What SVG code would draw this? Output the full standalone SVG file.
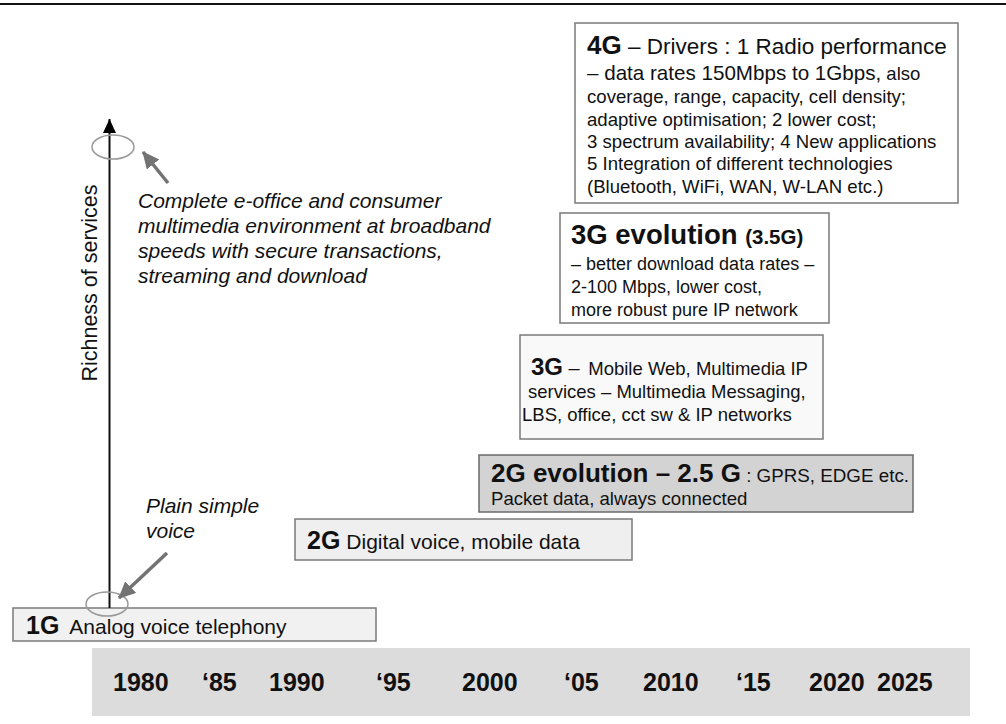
<svg xmlns="http://www.w3.org/2000/svg" width="1006" height="724" viewBox="0 0 1006 724">
<defs>
<style>
text{font-family:"Liberation Sans",Arial,sans-serif;fill:#111}
.b{font-weight:bold}
.it{font-style:italic;font-size:21px}
.box{stroke:#7a7a7a;stroke-width:1.5}
.yr{font-weight:bold;font-size:25px}
.ell{fill:none;stroke:#999;stroke-width:1.5}
.garr{stroke:#737373;stroke-width:3.5;fill:none;marker-end:url(#gh)}
</style>
<marker id="gh" markerUnits="userSpaceOnUse" markerWidth="20" markerHeight="18" refX="16" refY="8" orient="auto">
<path d="M0,0 L17,8 L0,16 Z" fill="#737373"/>
</marker>
<marker id="bh" markerUnits="userSpaceOnUse" markerWidth="16" markerHeight="14" refX="14" refY="6.5" orient="auto">
<path d="M0,0 L14,6.5 L0,13 Z" fill="#000"/>
</marker>
</defs>
<rect width="1006" height="724" fill="#fff"/>
<line x1="0" y1="4" x2="1006" y2="4" stroke="#111" stroke-width="2"/>

<g id="timeline">
<rect x="92" y="648" width="878" height="68" fill="#dcdcdc"/>
<text class="yr" x="113" y="691">1980</text>
<text class="yr" x="202" y="691">‘85</text>
<text class="yr" x="269" y="691">1990</text>
<text class="yr" x="376" y="691">‘95</text>
<text class="yr" x="462" y="691">2000</text>
<text class="yr" x="564" y="691">‘05</text>
<text class="yr" x="643" y="691">2010</text>
<text class="yr" x="736" y="691">‘15</text>
<text class="yr" x="809" y="691">2020</text>
<text class="yr" x="877" y="691">2025</text>
</g>

<g id="node-1g">
<rect class="box" x="13" y="608" width="363" height="33" fill="#f1f1f1"/>
<text x="26" y="634"><tspan class="b" font-size="25">1G</tspan><tspan font-size="21" dx="10">Analog voice telephony</tspan></text>
</g>

<g id="node-2g">
<rect class="box" x="295" y="519" width="337" height="41" fill="#efefef"/>
<text x="307" y="549"><tspan class="b" font-size="25">2G</tspan><tspan font-size="21" dx="6">Digital voice, mobile data</tspan></text>
</g>

<g id="node-2g-evolution">
<rect x="479" y="455" width="434" height="57" fill="#d3d3d3" stroke="#6a6a6a" stroke-width="1.5"/>
<text x="491" y="482"><tspan class="b" font-size="26">2G evolution – 2.5 G</tspan><tspan font-size="18.8"> : GPRS, EDGE etc.</tspan></text>
<text x="491" y="505" font-size="18.6">Packet data, always connected</text>
</g>

<g id="node-3g">
<rect class="box" x="520" y="335" width="303" height="104" fill="#f9f9f9"/>
<text x="531" y="375"><tspan class="b" font-size="24">3G</tspan><tspan font-size="20"> – </tspan><tspan font-size="18.5" dx="3">Mobile Web, Multimedia IP</tspan></text>
<text x="528" y="398" font-size="18.5">services – Multimedia Messaging,</text>
<text x="522" y="421" font-size="18.5">LBS, office, cct sw &amp; IP networks</text>
</g>

<g id="node-3g-evolution">
<rect class="box" x="560" y="213" width="269" height="110" fill="#fff"/>
<text x="571" y="244"><tspan class="b" font-size="27.5">3G evolution </tspan><tspan class="b" font-size="20.5">(3.5G)</tspan></text>
<text x="571" y="270" font-size="18">– better download data rates –</text>
<text x="571" y="293" font-size="18">2-100 Mbps, lower cost,</text>
<text x="571" y="316" font-size="18">more robust pure IP network</text>
</g>

<g id="node-4g">
<rect class="box" x="575" y="23" width="383" height="180" fill="#fff"/>
<text x="587" y="54"><tspan class="b" font-size="26">4G</tspan><tspan font-size="22.5"> – Drivers : 1 Radio performance</tspan></text>
<text x="587" y="80"><tspan font-size="20.6">– data rates 150Mbps to 1Gbps,</tspan><tspan font-size="18.5"> also</tspan></text>
<text x="587" y="103" font-size="18.6">coverage, range, capacity, cell density;</text>
<text x="587" y="126" font-size="18.6">adaptive optimisation; 2 lower cost;</text>
<text x="587" y="148" font-size="18.6">3 spectrum availability; 4 New applications</text>
<text x="587" y="170" font-size="18.6">5 Integration of different technologies</text>
<text x="587" y="193" font-size="18.6">(Bluetooth, WiFi, WAN, W-LAN etc.)</text>
</g>

<g id="axis">
<text x="97" y="283" font-size="21.5" text-anchor="middle" transform="rotate(-90 97 283)">Richness of services</text>
</g>

<g id="annotations">
<text class="it" x="138" y="208">Complete e-office and consumer</text>
<text class="it" x="138" y="233">multimedia environment at broadband</text>
<text class="it" x="138" y="258">speeds with secure transactions,</text>
<text class="it" x="138" y="283">streaming and download</text>
<text class="it" x="146" y="513">Plain simple</text>
<text class="it" x="146" y="538">voice</text>
</g>

<g id="connectors">
<line x1="109.5" y1="608" x2="109.5" y2="119" stroke="#111" stroke-width="2" marker-end="url(#bh)"/>
<ellipse class="ell" cx="113" cy="147" rx="21" ry="12"/>
<ellipse class="ell" cx="107" cy="604" rx="21" ry="12"/>
<line class="garr" x1="168" y1="183" x2="143" y2="152"/>
<line class="garr" x1="167" y1="553" x2="119" y2="598"/>
</g>
</svg>
